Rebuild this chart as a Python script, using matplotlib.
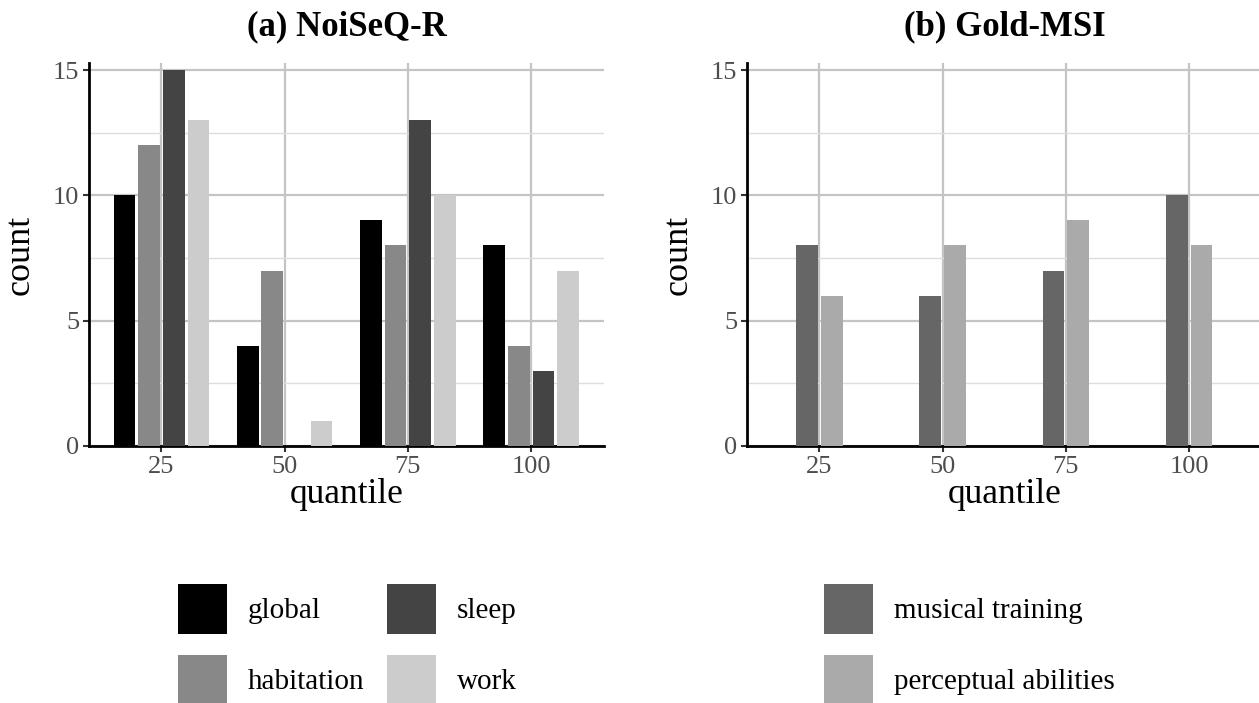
import numpy as np
import matplotlib
matplotlib.use('Agg')
import matplotlib.pyplot as plt
from matplotlib.patches import Patch

plt.rcParams['font.family'] = ['Liberation Serif', 'DejaVu Serif']

quantiles = [25, 50, 75, 100]

# (a) NoiSeQ-R
noise_names = ['global', 'habitation', 'sleep', 'work']
noise_global = [10, 4, 9, 8]
noise_habitation = [12, 7, 8, 4]
noise_sleep = [15, 0, 13, 3]
noise_work = [13, 1, 10, 7]
noise_colors = ['#000000', '#888888', '#444444', '#cccccc']

# (b) Gold-MSI
msi_names = ['musical training', 'perceptual abilities']
msi_training = [8, 6, 7, 10]
msi_perceptual = [6, 8, 9, 8]
msi_colors = ['#666666', '#aaaaaa']

W, H = 1259, 703
fig = plt.figure(figsize=(W / 100, H / 100), dpi=100)


def style_axes(ax, title):
    ax.set_xlim(10.3, 114.8)
    ax.set_ylim(0, 15.28)
    ax.set_xticks(quantiles)
    ax.set_yticks([0, 5, 10, 15])
    ax.set_yticks([2.5, 7.5, 12.5], minor=True)
    ax.grid(True, which='major', color='#c4c4c4', linewidth=1.6)
    ax.grid(True, which='minor', axis='y', color='#dedede', linewidth=1.0)
    ax.set_axisbelow(True)
    for s in ['top', 'right']:
        ax.spines[s].set_visible(False)
    for s in ['left', 'bottom']:
        ax.spines[s].set_linewidth(2.0)
        ax.spines[s].set_color('black')
    ax.tick_params(which='major', length=4, width=1.5, color='#333333',
                   labelsize=19, labelcolor='#4d4d4d', pad=3)
    ax.tick_params(which='minor', length=0)
    ax.set_xlabel('quantile', fontsize=25.5, labelpad=0)
    ax.set_ylabel('count', fontsize=26, labelpad=12)
    ax.set_title(title, fontsize=25, fontweight='bold', pad=20)


x = np.array(quantiles, dtype=float)
bw = 4.4

ax1 = fig.add_axes([89 / W, 1 - 446 / H, 515 / W, 383 / H])
series1 = [noise_global, noise_habitation, noise_sleep, noise_work]
for i, vals in enumerate(series1):
    ax1.bar(x + (i - 1.5) * 5, vals, width=bw, color=noise_colors[i], zorder=3)
style_axes(ax1, '(a) NoiSeQ-R')

ax2 = fig.add_axes([747 / W, 1 - 446 / H, 515 / W, 383 / H])
series2 = [msi_training, msi_perceptual]
for i, vals in enumerate(series2):
    ax2.bar(x + (i - 0.5) * 5, vals, width=bw, color=msi_colors[i], zorder=3)
style_axes(ax2, '(b) Gold-MSI')

leg_kw = dict(frameon=False, fontsize=21, loc='upper left',
              borderpad=0, borderaxespad=0, handlelength=1.68,
              handleheight=2.24, handletextpad=0.72, labelspacing=0.75)

h1 = [Patch(facecolor=c, edgecolor='none') for c in noise_colors]
fig.legend(h1, noise_names, ncol=2, columnspacing=0.75,
           bbox_to_anchor=(178 / W, 1 - 584 / H), **leg_kw)

h2 = [Patch(facecolor=c, edgecolor='none') for c in msi_colors]
fig.legend(h2, msi_names, ncol=1,
           bbox_to_anchor=(824 / W, 1 - 584 / H), **leg_kw)

fig.savefig('out.png', dpi=100)
